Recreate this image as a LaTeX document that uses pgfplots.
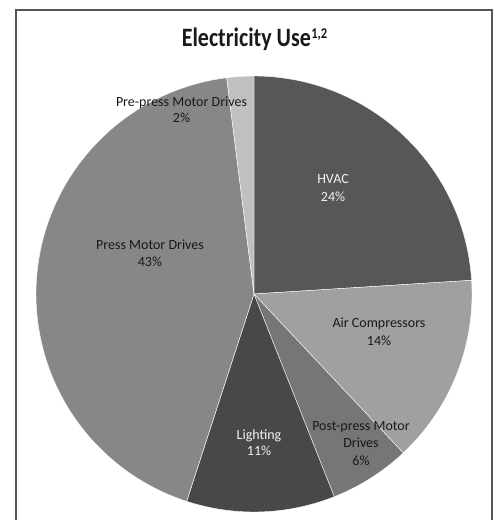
\documentclass[border=0pt]{standalone}
\usepackage{pgfplots}
\pgfplotsset{compat=1.18}
\usepackage{fontspec}
\setmainfont{Carlito}
\usepackage{graphicx}
\definecolor{cHVAC}{RGB}{87,87,87}
\definecolor{cAir}{RGB}{160,160,160}
\definecolor{cPost}{RGB}{118,118,118}
\definecolor{cLight}{RGB}{72,72,72}
\definecolor{cPress}{RGB}{135,135,135}
\definecolor{cPre}{RGB}{192,192,192}
\definecolor{frame}{RGB}{85,85,85}
\definecolor{darktxt}{RGB}{25,25,25}
\definecolor{lighttxt}{RGB}{242,242,242}
% #1 cumulative percent before the slice, #2 percent of the slice, #3 colour
\newcommand\slice[3]{%
  \addplot[fill=#3, draw=white, line width=0.4pt, domain={90-3.6*(#1+#2)}:{90-3.6*(#1)}, samples=120, variable=\t]
    ({254+218*cos(\t)},{226+218*sin(\t)}) -- (254,226) -- cycle;}
\newcommand\lbl[4]{\node[anchor=base, text=#3, font=\fontsize{14}{17}\selectfont, inner sep=0pt] at (#1,#2) {#4};}
\begin{document}
\begin{tikzpicture}
\path[use as bounding box] (0,0) rectangle (495pt,520pt);
\begin{axis}[hide axis, scale only axis, width=495pt, height=520pt,
  xmin=0, xmax=495, ymin=0, ymax=520, clip=false, at={(0,0)}, anchor=south west]
% data: HVAC 24, Air Compressors 14, Post-press Motor Drives 6, Lighting 11, Press Motor Drives 43, Pre-press Motor Drives 2
\slice{0}{24}{cHVAC}
\slice{24}{14}{cAir}
\slice{38}{6}{cPost}
\slice{44}{11}{cLight}
\slice{55}{43}{cPress}
\slice{98}{2}{cPre}
\draw[frame, line width=1.5pt] (16,-5) -- (16,510) -- (492,510) -- (492,-5);
\node[anchor=base, inner sep=0pt, text=darktxt] at (254.5,473.3) {\fontsize{26.5}{28}\selectfont\bfseries\scalebox{0.83}[1]{Electricity Use\kern0.5pt\raisebox{8pt}{\fontsize{15}{15}\selectfont 1,2}}};
\lbl{181.5}{413.3}{darktxt}{Pre-press Motor Drives}
\lbl{181.5}{397}{darktxt}{2\%}
\lbl{333}{336}{lighttxt}{HVAC}
\lbl{333}{318.3}{lighttxt}{24\%}
\lbl{379}{192.3}{darktxt}{Air Compressors}
\lbl{379}{174.3}{darktxt}{14\%}
\lbl{361}{90}{darktxt}{Post-press Motor}
\lbl{361}{72.3}{darktxt}{Drives}
\lbl{361}{55}{darktxt}{6\%}
\lbl{259}{81}{lighttxt}{Lighting}
\lbl{259}{65}{lighttxt}{11\%}
\lbl{150}{270}{darktxt}{Press Motor Drives}
\lbl{150}{253}{darktxt}{43\%}
\end{axis}
\end{tikzpicture}
\end{document}
